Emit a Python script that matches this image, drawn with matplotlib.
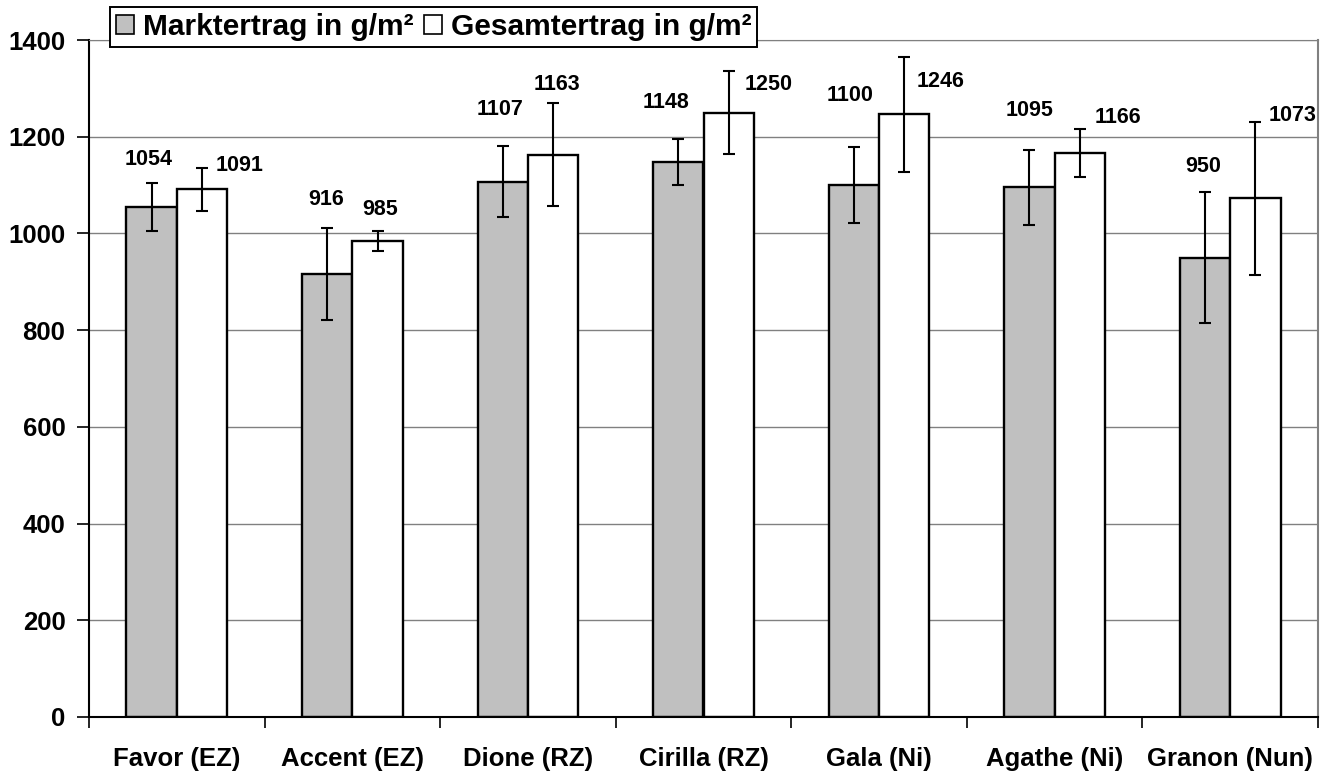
import matplotlib.pyplot as plt
import matplotlib.patches as mpatches
import numpy as np

plt.rcParams['font.family'] = ['Liberation Sans', 'DejaVu Sans']
plt.rcParams['font.weight'] = 'bold'

# Sorten und Ertraege in g/m2
sorten = ['Favor (EZ)', 'Accent (EZ)', 'Dione (RZ)', 'Cirilla (RZ)',
          'Gala (Ni)', 'Agathe (Ni)', 'Granon (Nun)']
marktertrag = [1054, 916, 1107, 1148, 1100, 1095, 950]
gesamtertrag = [1091, 985, 1163, 1250, 1246, 1166, 1073]
# Standardabweichung (aus dem Bild geschaetzt)
markt_err = [50, 96, 74, 47, 78, 77, 136]
gesamt_err = [44, 21, 106, 86, 119, 49, 158]

# Lage der Beschriftungen (Versatz in Kategorien, Hoehe in g/m2)
markt_lab_dx = [-0.163, -0.15, -0.159, -0.214, -0.165, -0.142, -0.153]
markt_lab_y = [1152, 1071, 1257, 1270, 1285, 1254, 1139]
gesamt_lab_dx = [0.355, 0.158, 0.164, 0.373, 0.351, 0.359, 0.353]
gesamt_lab_y = [1141, 1049, 1309, 1309, 1314, 1240, 1243]

x = np.arange(len(sorten))
w = 0.287

fig = plt.figure(figsize=(13.32, 7.71), dpi=100)
ax = fig.add_axes([89/1332, 54/771, (1318-89)/1332, (717-40)/771])

ax.bar(x - w/2, marktertrag, w, color='#c0c0c0', edgecolor='black', linewidth=1.7, zorder=2)
ax.bar(x + w/2, gesamtertrag, w, color='white', edgecolor='black', linewidth=1.7, zorder=2)
ax.errorbar(x - w/2, marktertrag, yerr=markt_err, fmt='none', ecolor='black',
            elinewidth=1.5, capsize=4, capthick=1.5, zorder=3)
ax.errorbar(x + w/2, gesamtertrag, yerr=gesamt_err, fmt='none', ecolor='black',
            elinewidth=1.5, capsize=4, capthick=1.5, zorder=3)

for i in range(len(sorten)):
    ax.text(x[i] + markt_lab_dx[i], markt_lab_y[i], str(marktertrag[i]),
            ha='center', va='center', fontsize=15.5, fontweight='bold')
    ax.text(x[i] + gesamt_lab_dx[i], gesamt_lab_y[i], str(gesamtertrag[i]),
            ha='center', va='center', fontsize=15.5, fontweight='bold')

ax.set_xlim(-0.5, len(sorten) - 0.5)
ax.set_ylim(0, 1400)
ax.set_yticks(range(0, 1401, 200))
ax.yaxis.grid(True, color='#808080', linewidth=1)
ax.set_axisbelow(True)
ax.tick_params(axis='y', labelsize=18.5, length=9, width=1.2, pad=8)

# Striche zwischen den Kategorien, Namen in der Mitte
ax.set_xticks(np.arange(len(sorten) + 1) - 0.5)
ax.set_xticklabels([])
ax.set_xticks(x, minor=True)
ax.set_xticklabels(sorten, minor=True)
ax.tick_params(axis='x', which='major', length=8, width=1.2)
ax.tick_params(axis='x', which='minor', length=0, labelsize=18.5, pad=21.5)
for lab in ax.get_xticklabels(minor=True) + ax.get_yticklabels():
    lab.set_fontweight('bold')

ax.spines['left'].set_linewidth(1.5)
ax.spines['bottom'].set_linewidth(1.5)
ax.spines['top'].set_color('#808080')
ax.spines['right'].set_color('#808080')
ax.spines['right'].set_linewidth(1.5)

h1 = mpatches.Patch(facecolor='#c0c0c0', edgecolor='black', linewidth=1.2)
h2 = mpatches.Patch(facecolor='white', edgecolor='black', linewidth=1.2)
leg = fig.legend([h1, h2], ['Marktertrag in g/m²', 'Gesamtertrag in g/m²'],
                 loc='upper left', bbox_to_anchor=(110/1332, 1 - 7/771), ncol=2,
                 prop={'weight': 'bold', 'size': 21.5},
                 handlelength=0.6, handleheight=0.6, handletextpad=0.3,
                 columnspacing=0.35, borderpad=0.2, borderaxespad=0,
                 fancybox=False, framealpha=1, edgecolor='black')
leg.get_frame().set_linewidth(1.4)

plt.savefig('out.png', dpi=100)
